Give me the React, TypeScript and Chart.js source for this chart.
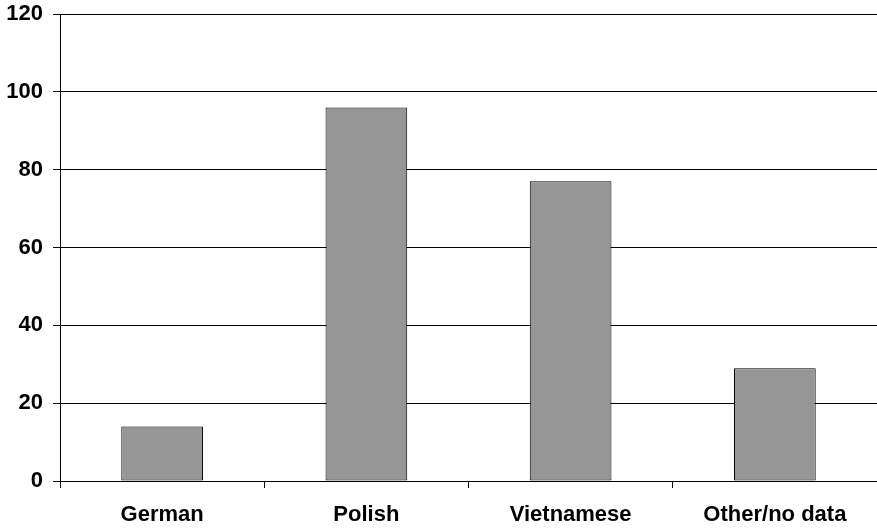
import React, { useEffect, useRef } from "react";
import { Chart, registerables } from "chart.js";

Chart.register(...registerables);

const categories = ["German", "Polish", "Vietnamese", "Other/no data"];
const values = [14, 96, 77, 29];
const yTicks = [0, 20, 40, 60, 80, 100, 120];

const FONT = { family: "'Liberation Sans', Arial, sans-serif", size: 22, weight: "bold" as const };

export default function App() {
  const ref = useRef<HTMLCanvasElement | null>(null);
  useEffect(() => {
    document.body.style.margin = "0";
    const ctx = ref.current!;
    const chart = new Chart(ctx, {
      type: "bar",
      data: {
        labels: categories,
        datasets: [
          {
            data: values,
            backgroundColor: "#969696",
            borderColor: "#000000",
            borderWidth: 1,
            borderSkipped: false,
            barPercentage: 0.4,
            categoryPercentage: 1,
          },
        ],
      },
      options: {
        animation: false,
        responsive: false,
        maintainAspectRatio: false,
        layout: { padding: { top: 14, right: 0, left: 0, bottom: 0 } },
        plugins: { legend: { display: false }, tooltip: { enabled: false } },
        scales: {
          x: {
            grid: {
              offset: true,
              drawOnChartArea: false,
              drawTicks: true,
              tickLength: 7,
              color: "#000000",
            },
            border: { display: true, color: "#000000" },
            ticks: {
              color: "#000000",
              font: FONT,
              padding: 14,
              maxRotation: 0,
            },
            afterFit: (scale: any) => {
              scale.height = 47;
              scale.paddingLeft = 0;
              scale.paddingRight = 0;
            },
          },
          y: {
            min: 0,
            max: 120,
            afterBuildTicks: (scale: any) => {
              scale.ticks = yTicks.map((v) => ({ value: v }));
            },
            grid: { color: "#000000", tickLength: 7, lineWidth: 1 },
            border: { display: true, color: "#000000" },
            ticks: {
              color: "#000000",
              font: FONT,
              padding: 10,
            },
            afterFit: (scale: any) => {
              scale.width = 60;
              scale.paddingTop = 0;
              scale.paddingBottom = 0;
            },
          },
        },
      },
    });
    return () => chart.destroy();
  }, []);
  return (
    <div style={{ position: "absolute", left: 0, top: 0, width: 877, height: 528 }}>
      <canvas ref={ref} width={877} height={528} />
    </div>
  );
}
